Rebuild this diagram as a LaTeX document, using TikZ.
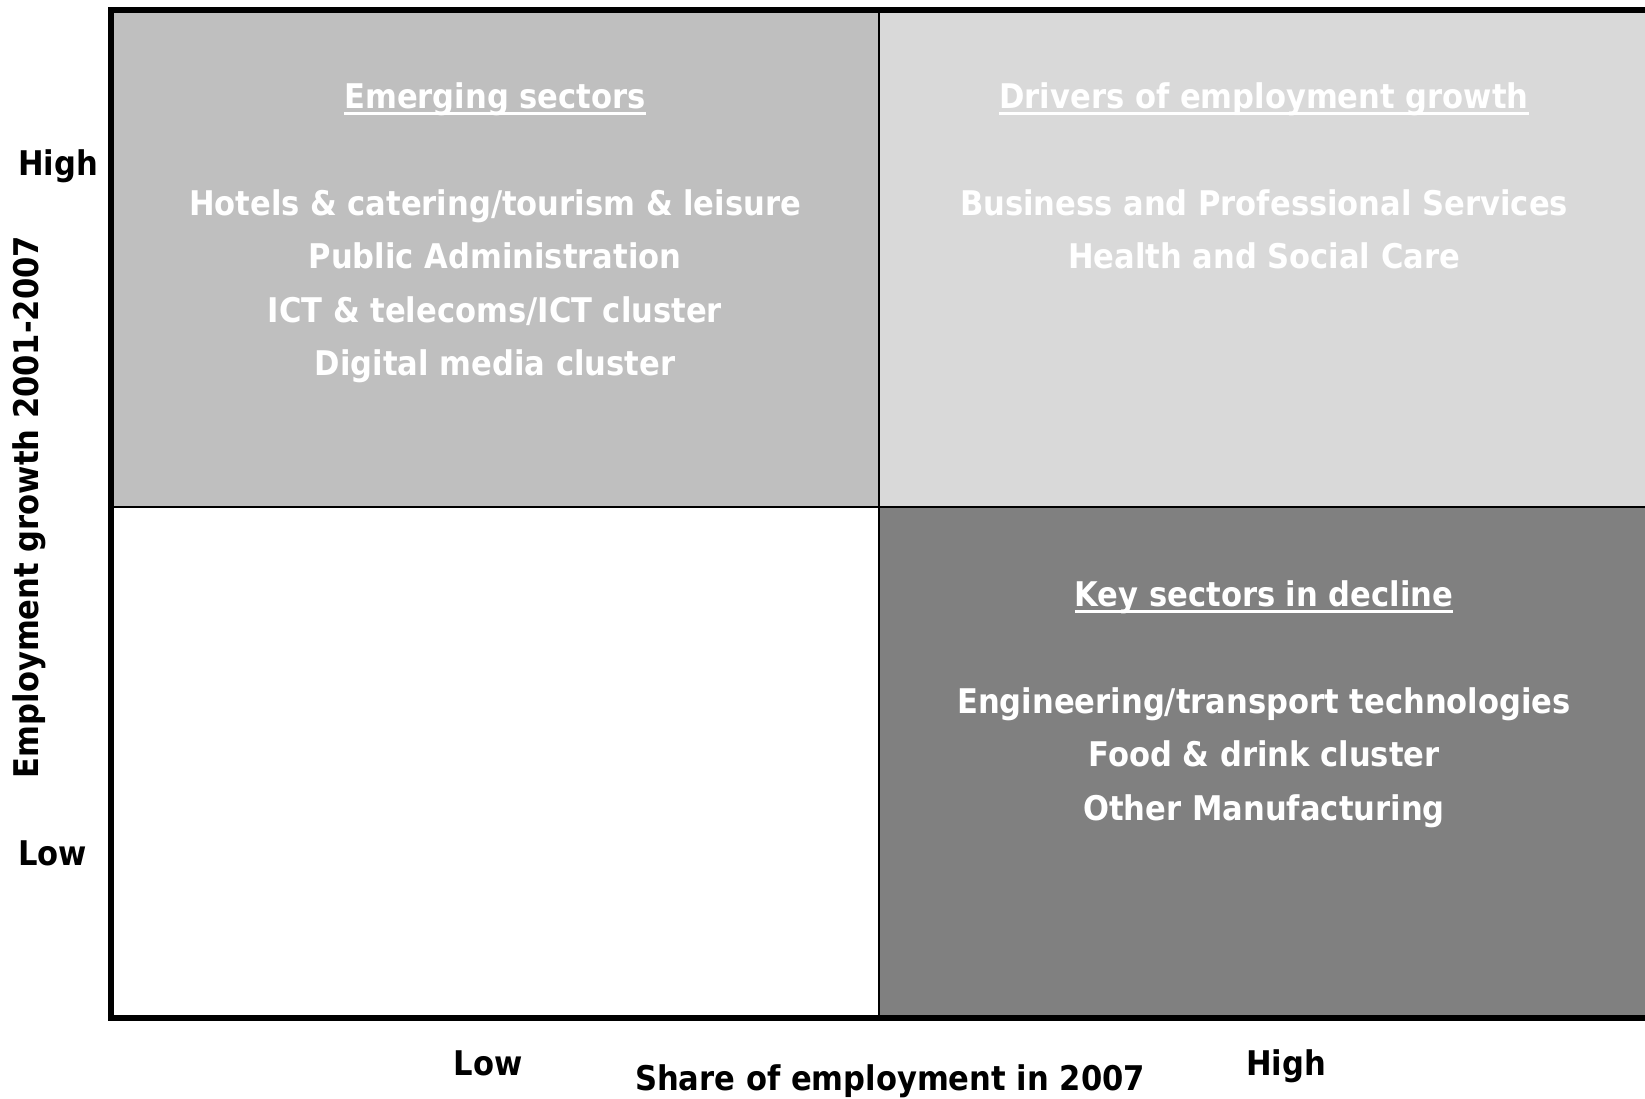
\documentclass[tikz,border=0pt]{standalone}
\usepackage{fontspec}
\setmainfont{DejaVu Sans}[FakeStretch=0.9]
\usepackage{tikz}
\definecolor{grayA}{HTML}{BFBFBF}
\definecolor{grayB}{HTML}{D9D9D9}
\definecolor{grayC}{HTML}{808080}
\newcommand{\ulin}[1]{\setbox0\hbox{#1}\rlap{\rule[-0.2em]{\wd0}{0.07em}}\box0}

\begin{document}
\begin{tikzpicture}[x=1pt,y=-1pt,
  celltext/.style={align=center,text=white,font=\fontsize{34}{53.5}\selectfont\bfseries,inner sep=0pt,anchor=north},
  axislabel/.style={font=\fontsize{34}{40}\selectfont\bfseries,inner sep=0pt}]
\useasboundingbox (0,0) rectangle (1645,1098);
\coordinate (nw) at (111,10);
\coordinate (sw) at (111,1018);
\coordinate (ne) at (1645,10);
\coordinate (se) at (1645,1018);
\coordinate (mid) at (879,507);
% quadrants
\fill[grayA] (nw) rectangle (mid);
\fill[grayB] (mid|-nw) rectangle (ne|-mid);
\fill[grayC] (mid) rectangle (se);
\draw[line width=1.5pt] (mid|-nw) -- (mid|-sw);
\draw[line width=1.5pt] (nw|-mid) -- (ne|-mid);
\draw[line width=6.5pt] (ne) -- (nw) -- (sw) -- (se);

\path (495,82) node(emerging)[celltext]{\ulin{Emerging sectors}\\[53.5pt]
Hotels \& catering/tourism \& leisure\\
Public Administration\\
ICT \& telecoms/ICT cluster\\
Digital media cluster};
\path (1264,82) node(drivers)[celltext]{\ulin{Drivers of employment growth}\\[53.5pt]
Business and Professional Services\\
Health and Social Care};
\path (1264,580) node(decline)[celltext]{\ulin{Key sectors in decline}\\[53.5pt]
Engineering/transport technologies\\
Food \& drink cluster\\
Other Manufacturing};

\path (18,175) node(yhigh)[axislabel,anchor=base west]{High};
\path (18,865) node(ylow)[axislabel,anchor=base west]{Low};
\path (29,507) node(ytitle)[axislabel,rotate=90]{Employment growth 2001-2007};
\path (488,1075) node(xlow)[axislabel,anchor=base]{Low};
\path (1286,1075) node(xhigh)[axislabel,anchor=base]{High};
\path (890,1090) node(xtitle)[axislabel,anchor=base]{Share of employment in 2007};
\end{tikzpicture}
\end{document}
